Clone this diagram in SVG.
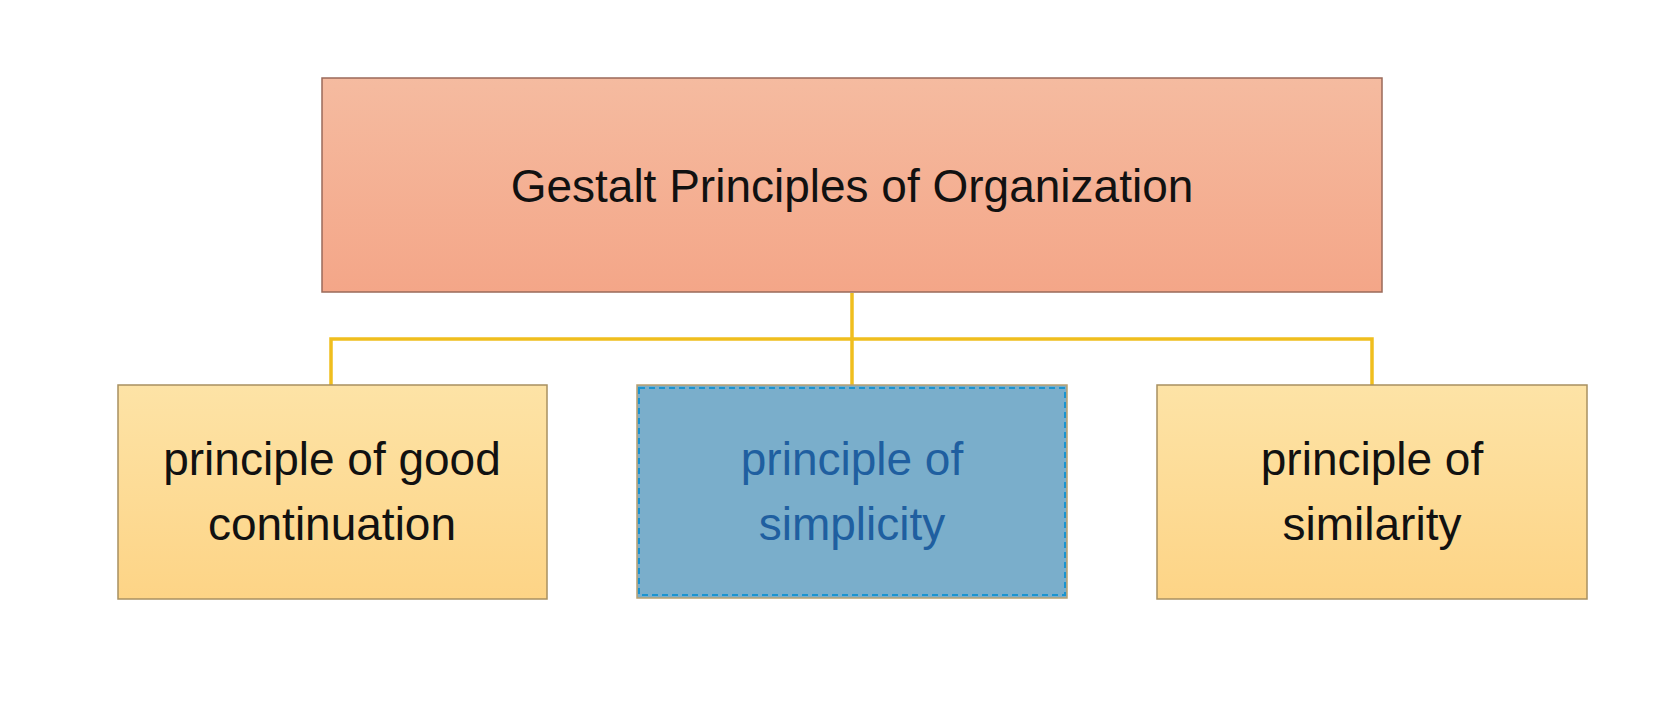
<svg xmlns="http://www.w3.org/2000/svg" width="1680" height="723" viewBox="0 0 1680 723">
<defs>
<linearGradient id="gt" x1="0" y1="0" x2="0" y2="1"><stop offset="0" stop-color="#f5bba0"/><stop offset="1" stop-color="#f4a688"/></linearGradient>
<linearGradient id="gy" x1="0" y1="0" x2="0" y2="1"><stop offset="0" stop-color="#fde3a6"/><stop offset="1" stop-color="#fdd486"/></linearGradient>
</defs>
<style>
.t{font-family:"Liberation Sans",Arial,sans-serif;text-anchor:middle;fill:#111}
.c{fill:none;stroke:#f0be1e;stroke-width:3.5}
</style>
<rect width="1680" height="723" fill="#fff"/>
<g id="connectors">
<path class="c" d="M852 293V385M331 385V339H1372V385"/>
</g>
<g id="root">
<rect x="322" y="78" width="1060" height="214" fill="url(#gt)" stroke="#9a6a5a" stroke-width="1.5"/>
<text class="t" x="852" y="202" font-size="46">Gestalt Principles of Organization</text>
</g>
<g id="n1">
<rect x="118" y="385" width="429" height="214" fill="url(#gy)" stroke="#a89060" stroke-width="1.5"/>
<text class="t" x="332" y="475" font-size="46">principle of good</text>
<text class="t" x="332" y="540" font-size="46">continuation</text>
</g>
<g id="n2">
<rect x="637" y="385" width="430" height="213" fill="#7aaecb" stroke="#b8a070" stroke-width="1.5"/>
<rect x="639" y="388" width="426" height="207" fill="none" stroke="#1a94d0" stroke-width="2" stroke-dasharray="6,4"/>
<text class="t" x="852" y="475" font-size="46" style="fill:#1f5fa0">principle of</text>
<text class="t" x="852" y="540" font-size="46" style="fill:#1f5fa0">simplicity</text>
</g>
<g id="n3">
<rect x="1157" y="385" width="430" height="214" fill="url(#gy)" stroke="#a89060" stroke-width="1.5"/>
<text class="t" x="1372" y="475" font-size="46">principle of</text>
<text class="t" x="1372" y="540" font-size="46">similarity</text>
</g>
</svg>
